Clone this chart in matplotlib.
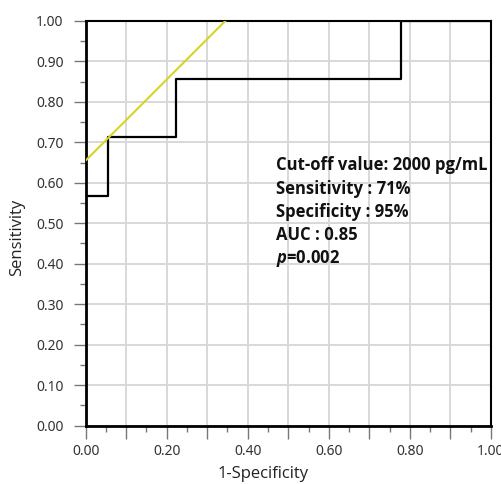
import numpy as np
import matplotlib
matplotlib.use("Agg")
from matplotlib import pyplot as plt
from matplotlib.ticker import MultipleLocator
from matplotlib.font_manager import FontProperties

# ROC curve steps (1-specificity, sensitivity)
fpr = [0.0, 0.0, 0.055, 0.055, 0.222, 0.222, 0.778, 0.778, 1.0]
tpr = [0.0, 0.567, 0.567, 0.714, 0.714, 0.857, 0.857, 1.0, 1.0]

# tangent line at the cut-off point
tangente_x = [0.0, 0.345]
tangente_y = [0.655, 1.0]

textos = ["Cut-off value: 2000 pg/mL", "Sensitivity : 71%", "Specificity : 95%", "AUC : 0.85",
          r"$\mathbfit{p}$=0.002"]
textos_y = [0.644, 0.584, 0.527, 0.472, 0.413]

plt.rcParams["mathtext.fontset"] = "custom"
plt.rcParams["mathtext.bfit"] = "Open Sans:italic:bold:normal"

fonte_texto = FontProperties(family="Open Sans", weight="bold", stretch="normal", size=12)

fig = plt.figure(figsize=(5.02, 4.84), dpi=100)
ax = fig.add_axes([0.1707, 0.1205, 0.807, 0.8365])

ax.plot(fpr, tpr, color="black", linewidth=1.6, zorder=3)
ax.plot(tangente_x, tangente_y, color="#d4d42a", linewidth=1.5, zorder=3)

ax.set_xlim(0, 1)
ax.set_ylim(0, 1)

ticks = np.arange(0, 1.01, 0.1)
ax.xaxis.set_minor_locator(MultipleLocator(0.05))
ax.yaxis.set_minor_locator(MultipleLocator(0.05))
ax.set_xticks(ticks)
ax.set_xticklabels(["%.2f" % v if i % 2 == 0 else "" for i, v in enumerate(ticks)])
ax.set_yticks(ticks)
ax.set_yticklabels(["%.2f" % v for v in ticks])

ax.grid(True, which="major", color="#d8d8d8", linewidth=1.4)
ax.set_axisbelow(True)

ax.tick_params(which="major", direction="out", length=9, width=1.0, color="#777777",
               labelsize=10, labelcolor="#333333")
ax.tick_params(axis="x", which="major", pad=4)
ax.tick_params(axis="y", which="major", pad=7)
ax.tick_params(which="minor", direction="out", length=4, width=1.0, color="#777777")

for lado in ["left", "bottom"]:
    ax.spines[lado].set_linewidth(2.0)
for lado in ["top", "right"]:
    ax.spines[lado].set_linewidth(1.5)

for lbl in ax.get_xticklabels() + ax.get_yticklabels():
    lbl.set_family("Noto Sans")

fig.text(263 / 502, 1 - 474 / 484, "1-Specificity", fontsize=12, family="Open Sans",
         fontstretch="normal", color="#222222", ha="center", va="center")
fig.text(17 / 502, 1 - 237 / 484, "Sensitivity", fontsize=12, family="Open Sans",
         fontstretch="normal", color="#222222", ha="center", va="center", rotation=90)

for t, y in zip(textos, textos_y):
    ax.text(0.47, y, t, fontproperties=fonte_texto, va="center", ha="left", color="#111111")

plt.savefig("out.png", dpi=100)
